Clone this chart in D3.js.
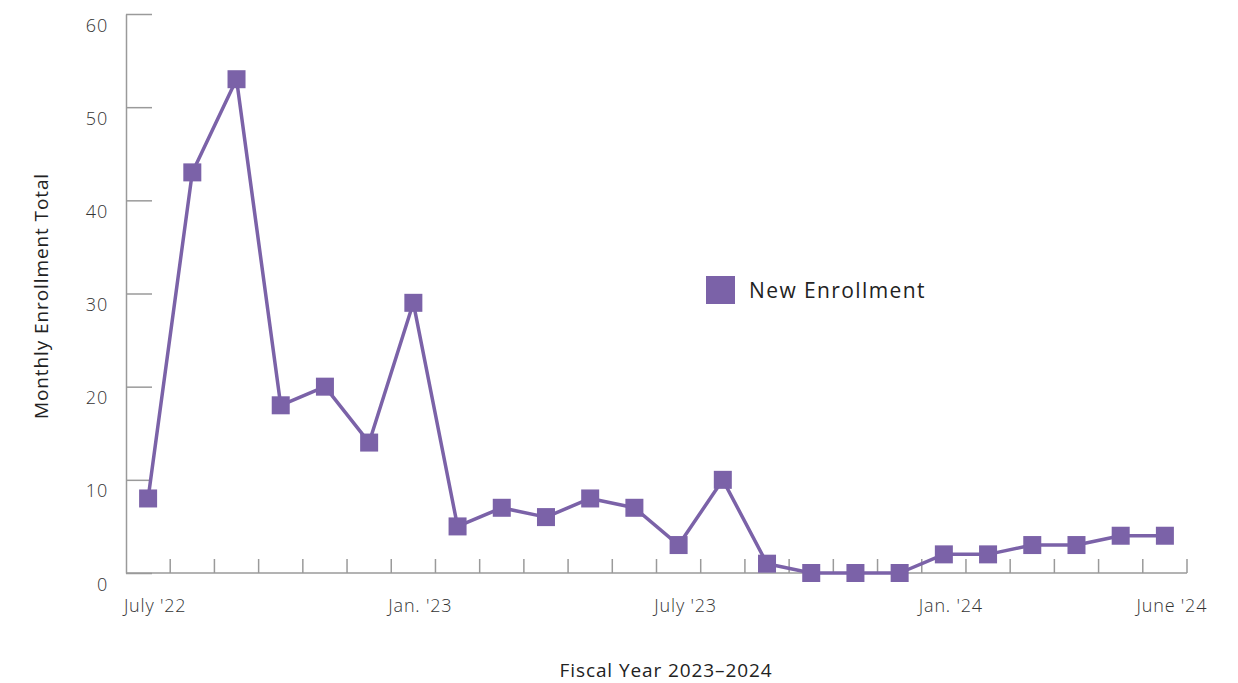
<!DOCTYPE html>
<html>
<head>
<meta charset="utf-8">
<script src="https://cdn.jsdelivr.net/npm/d3@7"></script>
<style>
  body { margin: 0; background: #fff; }
  svg, svg text { font-family: "Open Sans", "Lato", sans-serif; }
</style>
</head>
<body>
<div id="chart"></div>
<script>
// months of the fiscal years, July '22 .. June '24
var months = ["Jul22","Aug22","Sep22","Oct22","Nov22","Dec22","Jan23","Feb23","Mar23","Apr23","May23","Jun23",
              "Jul23","Aug23","Sep23","Oct23","Nov23","Dec23","Jan24","Feb24","Mar24","Apr24","May24","Jun24"];
var newEnrollment = [8, 43, 53, 18, 20, 14, 29, 5, 7, 6, 8, 7, 3, 10, 1, 0, 0, 0, 2, 2, 3, 3, 4, 4];
var monthLabels = {"Jul22": "July '22", "Jan23": "Jan. '23", "Jul23": "July '23", "Jan24": "Jan. '24", "Jun24": "June '24"};
var yTicks = [0, 10, 20, 30, 40, 50, 60];

var WIDTH = 1238, HEIGHT = 683;
var margin = {top: 14, right: 51, bottom: 110, left: 126};
var width = WIDTH - margin.left - margin.right,
    height = HEIGHT - margin.top - margin.bottom;

var purple = "#7b62a8", axisGrey = "#9a9a9a", textCol = "#333";

var svg = d3.select("#chart").append("svg")
    .attr("width", WIDTH)
    .attr("height", HEIGHT);

var g = svg.append("g").attr("transform", `translate(${margin.left},${margin.top})`);

var x = d3.scaleBand().domain(months).range([0, width]);
var y = d3.scaleLinear().domain([0, 60]).range([height, 0]);

// y axis: ticks pointing inwards, labels pushed below the tick
var yAxis = g.append("g").call(d3.axisLeft(y).tickValues(yTicks).tickSize(-26).tickSizeOuter(0).tickPadding(18));
yAxis.attr("font-family", null).attr("font-size", null);
yAxis.select(".domain").attr("stroke", axisGrey).attr("stroke-width", 1.5);
yAxis.selectAll(".tick line").attr("stroke", axisGrey).attr("stroke-width", 1.5);
yAxis.selectAll(".tick text")
    .attr("dy", "0.95em")
    .attr("fill", textCol)
    .style("font-size", "18px")
    .style("letter-spacing", "0.8px")
    .style("font-weight", 300);

// x axis: ticks on band boundaries
var xAxisG = g.append("g").attr("transform", `translate(0,${height})`);
xAxisG.append("line")
    .attr("x1", 0).attr("x2", width)
    .attr("stroke", axisGrey).attr("stroke-width", 1.5);
xAxisG.selectAll("line.tk")
    .data(months)
    .join("line")
      .attr("class", "tk")
      .attr("x1", d => x(d) + x.bandwidth()).attr("x2", d => x(d) + x.bandwidth())
      .attr("y1", 0).attr("y2", -14)
      .attr("stroke", axisGrey).attr("stroke-width", 1.5);
xAxisG.selectAll("text")
    .data(months.filter(d => monthLabels[d]))
    .join("text")
      .attr("x", d => x(d) + x.bandwidth() / 2 + 7)
      .attr("y", 39)
      .attr("text-anchor", "middle")
      .attr("fill", textCol)
      .style("font-size", "18px")
      .style("letter-spacing", "0.8px")
      .style("font-weight", 300)
      .text(d => monthLabels[d]);

// line + square markers
var line = d3.line()
    .x((d, i) => x(months[i]) + x.bandwidth() / 2)
    .y(d => y(d));

g.append("path")
    .datum(newEnrollment)
    .attr("fill", "none")
    .attr("stroke", purple)
    .attr("stroke-width", 3.5)
    .attr("stroke-linejoin", "round")
    .attr("d", line);

var sq = 18;
g.selectAll("rect.pt")
    .data(newEnrollment)
    .join("rect")
      .attr("class", "pt")
      .attr("x", (d, i) => x(months[i]) + x.bandwidth() / 2 - sq / 2)
      .attr("y", d => y(d) - sq / 2)
      .attr("width", sq)
      .attr("height", sq)
      .attr("fill", purple);

// legend
var legend = svg.append("g").attr("transform", "translate(706,276)");
legend.append("rect").attr("width", 29).attr("height", 28).attr("fill", purple);
legend.append("text")
    .attr("x", 43).attr("y", 15).attr("dy", "0.35em")
    .attr("fill", "#222")
    .style("font-size", "21px")
    .style("letter-spacing", "1.4px")
    .style("font-weight", 500)
    .text("New Enrollment");

// axis titles
svg.append("text")
    .attr("transform", "translate(48,296) rotate(-90)")
    .attr("text-anchor", "middle")
    .attr("fill", "#222")
    .style("font-size", "19px")
    .style("letter-spacing", "0.9px")
    .style("font-weight", 500)
    .text("Monthly Enrollment Total");

svg.append("text")
    .attr("x", 666).attr("y", 677)
    .attr("text-anchor", "middle")
    .attr("fill", "#222")
    .style("font-size", "19px")
    .style("letter-spacing", "0.9px")
    .style("font-weight", 500)
    .text("Fiscal Year 2023–2024");
</script>
</body>
</html>
